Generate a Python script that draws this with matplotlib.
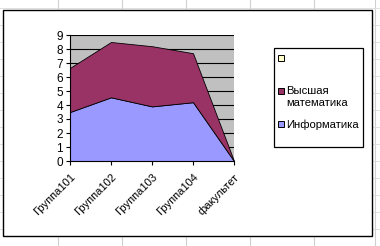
import numpy as np
import matplotlib
matplotlib.use('Agg')
import matplotlib.pyplot as plt
from matplotlib.patches import Rectangle
from matplotlib.lines import Line2D

# chart data
categories = ['Группа101', 'Группа102', 'Группа103', 'Группа104', 'факультет']
informatika = [3.5, 4.55, 3.9, 4.2, 0.0]
vysshaya_matem = [3.15, 3.95, 4.3, 3.5, 0.0]
series_names = ['', 'Высшая\nматематика', 'Информатика']
series_colors = ['#ffffcc', '#993366', '#9999ff']
yticks = list(range(0, 10))

plt.rcParams['font.family'] = ['Liberation Sans', 'DejaVu Sans']

W, H = 380, 246
fig = plt.figure(figsize=(W / 100, H / 100), dpi=100, facecolor='white')


def px(x0, y0):
    # pixel coords (from top left) -> figure fraction
    return x0 / W, 1 - y0 / H


# spreadsheet cell grid behind the chart
for gx in [58, 122, 186, 250, 314, 375]:
    fig.add_artist(Line2D([gx / W, gx / W], [0, 1], color='#d0d0d0', lw=0.8, zorder=-3))
for gy in range(8, 246, 17):
    fig.add_artist(Line2D([0, 1], [1 - gy / H, 1 - gy / H], color='#e0e0e0', lw=0.7, zorder=-3))

# chart area box
fig.add_artist(Rectangle(px(3, 236), 369 / W, 226 / H, transform=fig.transFigure,
                         facecolor='white', edgecolor='black', lw=1.0, zorder=-2))

ax = fig.add_axes([70 / W, 1 - 161 / H, 164 / W, 126 / H])
x = np.arange(len(categories))
inf = np.array(informatika)
top = inf + np.array(vysshaya_matem)
ax.set_facecolor('#c0c0c0')
for yv in yticks[1:]:
    ax.axhline(yv, color='black', lw=0.8, zorder=1)
ax.fill_between(x, 0, inf, facecolor='#9999ff', edgecolor='black', lw=0.6, zorder=2)
ax.fill_between(x, inf, top, facecolor='#993366', edgecolor='black', lw=0.6, zorder=2)
ax.set_xlim(0, len(categories) - 1)
ax.set_ylim(0, 9)
ax.set_yticks(yticks)
ax.set_xticks(x)
ax.set_xticklabels(categories, rotation=45, ha='right', rotation_mode='anchor', fontsize=8)
ax.tick_params(axis='y', labelsize=8.5, length=3, width=0.8, pad=2)
ax.tick_params(axis='x', length=3, width=0.8, pad=5)
for s in ['top', 'right']:
    ax.spines[s].set_visible(False)
for s in ['left', 'bottom']:
    ax.spines[s].set_linewidth(0.8)

# legend box drawn by hand
fig.add_artist(Rectangle(px(274, 147), 89 / W, 99 / H, transform=fig.transFigure,
                         facecolor='white', edgecolor='black', lw=0.9, zorder=3))
for name, col, cy in zip(series_names, series_colors, [58, 91, 124]):
    fig.add_artist(Rectangle(px(278, cy + 3), 6 / W, 6 / H, transform=fig.transFigure,
                             facecolor=col, edgecolor='black', lw=0.7, zorder=4))
    fig.text(*px(286.5, cy - 5), name, fontsize=8.1, va='top', ha='left',
             linespacing=1.25, zorder=4)

fig.savefig('out.png', dpi=100)
